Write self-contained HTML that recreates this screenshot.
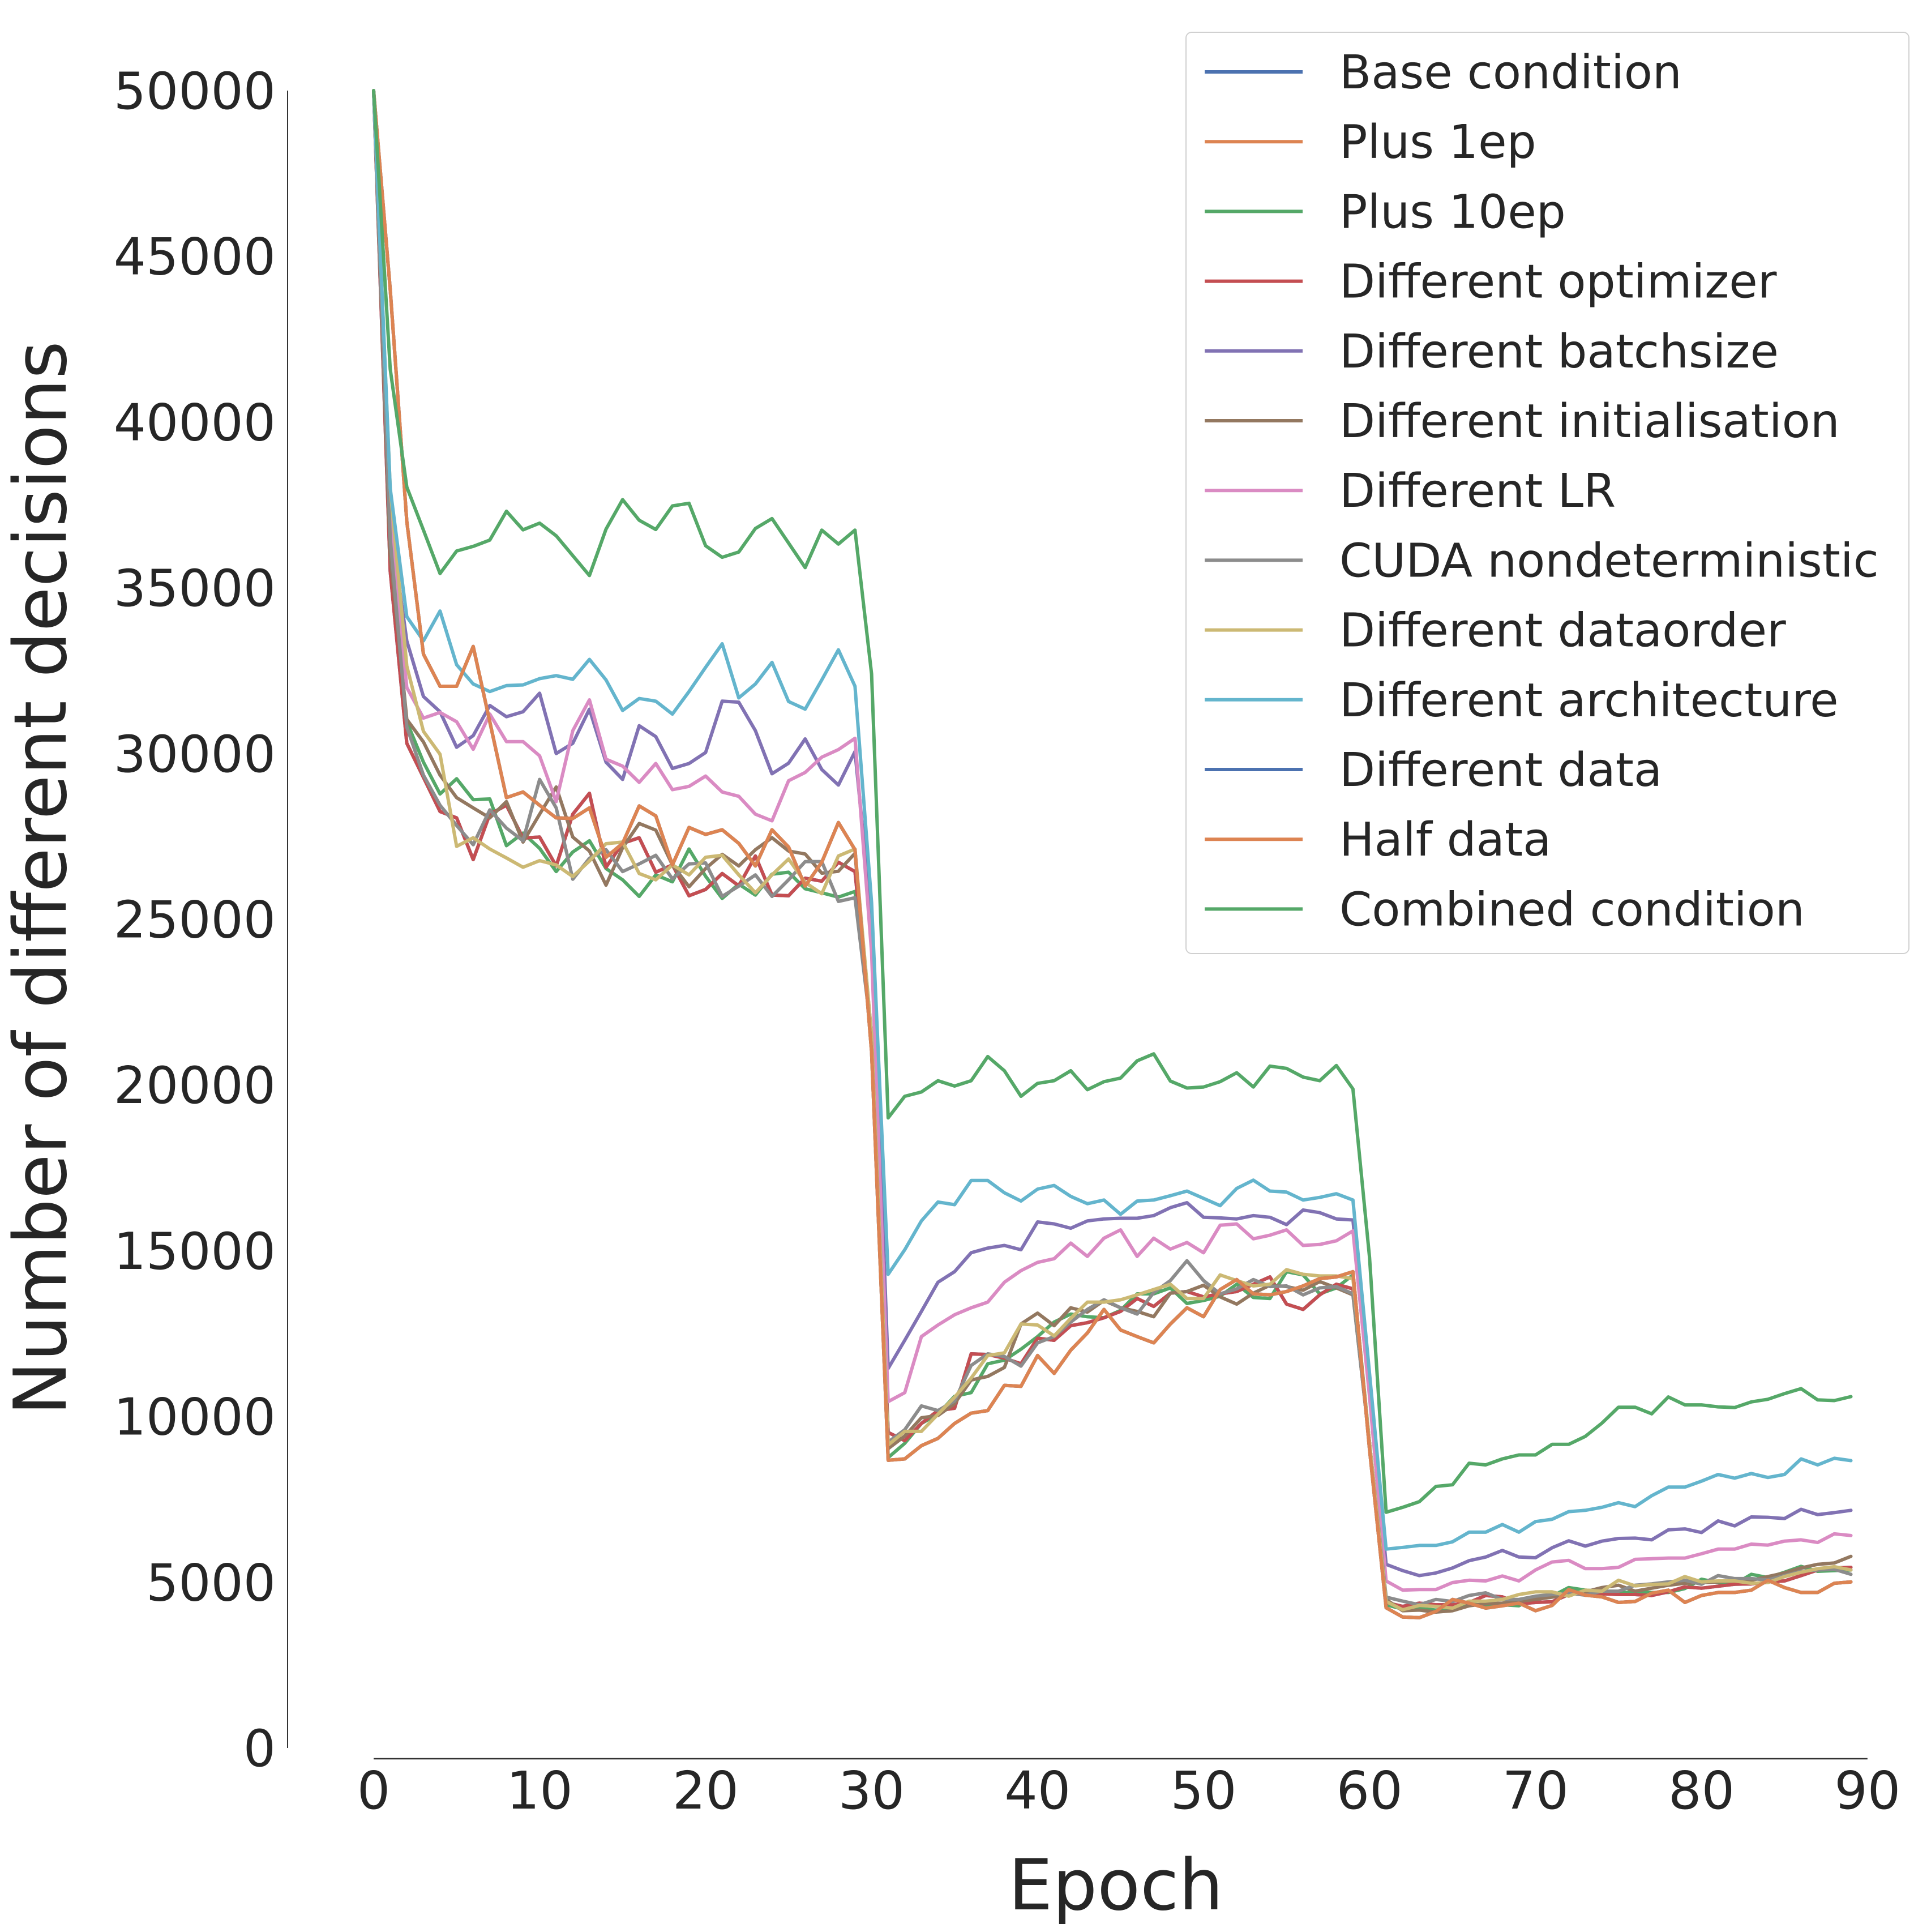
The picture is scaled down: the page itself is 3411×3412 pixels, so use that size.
<!DOCTYPE html>
<html><head><meta charset="utf-8"><style>
html,body{margin:0;padding:0;background:#fff;}
svg{display:block;font-family:"DejaVu Sans","Liberation Sans",sans-serif;}
</style></head><body>
<svg id="chart" width="3411" height="3412" viewBox="0 0 3411 3412" xmlns="http://www.w3.org/2000/svg">
<rect x="0" y="0" width="3411" height="3412" fill="#fff"/>
<g id="axes"></g>
<g id="lines"></g>
<g id="legend"></g>
</svg>
<script>
const yTicks=[0,5000,10000,15000,20000,25000,30000,35000,40000,45000,50000];
const xTicks=[0,10,20,30,40,50,60,70,80,90];
const seriesNames=["Base condition","Plus 1ep","Plus 10ep","Different optimizer","Different batchsize","Different initialisation","Different LR","CUDA nondeterministic","Different dataorder","Different architecture","Different data","Half data","Combined condition"];
const seriesColors=["#4c72b0","#dd8452","#55a868","#c44e52","#8172b3","#937860","#da8bc3","#8c8c8c","#ccb974","#64b5cd","#4c72b0","#dd8452","#55a868"];

const halfData=[50000,44000,37000,33000,32030,32030,33230,30960,28670,28840,28440,28060,28040,28360,26870,27290,28420,28120,26640,27770,27560,27700,27290,26610,27700,27180,26000,26720,27920,27100,21000,
8680,8720,9120,9340,9790,10100,10180,10940,10910,11840,11300,12000,12520,13230,12610,12410,12220,12790,13280,13010,13830,14130,13700,13670,13770,13940,14160,14210,14370,9000,
4230,3950,3930,4120,4480,4370,4220,4290,4370,4140,4300,4780,4610,4560,4390,4420,4670,4760,4390,4600,4690,4690,4760,5060,4840,4690,4690,4970,5010];
const optimizerData=[50000,35500,30310,29280,28250,28060,26800,28170,28440,27450,27480,26610,28170,28800,26570,27290,27460,26420,26640,25710,25900,26380,26010,26910,25730,25710,26240,26150,26720,26440,21500,
9520,9270,9790,10180,10250,11890,11870,11760,11590,12360,12300,12740,12830,12980,13170,13560,13320,13720,13770,13610,13700,13770,13990,14210,13390,13230,13670,13990,13850,9200,
4390,4270,4370,4320,4320,4390,4600,4560,4350,4390,4410,4630,4690,4650,4630,4630,4600,4710,4860,4820,4880,4940,4950,5010,5040,5200,5370,5430,5450];
const baseData=optimizerData.slice();
const plus1epData=halfData.slice();
const differentDataData=halfData.slice();
const plus10epData=[50000,36000,30960,29740,28780,29240,28610,28630,27220,27600,27140,26440,27030,27370,26530,26190,25690,26340,26130,27120,26300,25630,26060,25730,26360,26420,25920,25800,25670,25840,21500,
8760,9190,9790,10070,10610,10720,11590,11700,12030,12410,12850,13090,13010,12980,13200,13700,13700,13880,13410,13500,13630,13990,13590,13560,14370,14270,13700,13880,14270,9200,
4320,4190,4210,4160,4220,4350,4300,4320,4290,4560,4580,4840,4760,4730,4680,4710,4690,4690,4810,5090,4990,4940,5240,5140,5300,5480,5330,5350,5370];
const batchsizeData=[50000,37000,33400,31720,31260,30190,30540,31450,31110,31260,31820,30000,30310,31340,29740,29220,30840,30510,29550,29700,30030,31580,31550,30690,29390,29710,30440,29520,29050,30060,25000,
11450,12300,13170,14050,14370,14940,15080,15160,15030,15870,15810,15680,15900,15960,15980,15980,16060,16300,16450,16010,15990,15960,16060,16010,15790,16230,16150,15960,15930,10900,
5540,5350,5200,5280,5430,5650,5760,5960,5760,5740,6040,6250,6090,6240,6320,6330,6280,6580,6610,6500,6850,6700,6970,6960,6920,7200,7040,7100,7170];
const initData=[50000,36000,31030,30350,29350,28670,28360,28060,28550,27330,28170,28990,27480,27060,26030,27160,27890,27690,26640,25980,26530,26960,26610,27100,27460,27060,26970,26390,26450,26990,21500,
9030,9410,9960,10030,10390,11100,11210,11480,12790,13120,12740,13280,13150,13500,13280,13170,13010,13720,13770,13960,13610,13390,13720,13960,13920,13810,14070,13880,13670,9200,
4480,4140,4160,4100,4140,4290,4350,4370,4420,4480,4550,4610,4710,4840,4910,4730,4820,4910,4970,4990,5010,5040,5060,5170,5280,5430,5540,5580,5780];
const lrData=[50000,37000,31990,31070,31240,30960,30130,31190,30360,30360,29930,28550,30690,31620,29830,29620,29130,29700,28910,29010,29320,28840,28710,28170,27970,29180,29430,29890,30120,30460,24000,
10450,10720,12410,12760,13070,13280,13450,14050,14400,14650,14760,15230,14830,15380,15630,14830,15380,15050,15250,14940,15770,15810,15360,15470,15630,15160,15190,15300,15600,10600,
5040,4760,4780,4780,4990,5060,5040,5190,5040,5370,5610,5660,5410,5410,5450,5690,5710,5730,5730,5860,6000,6000,6150,6120,6240,6280,6200,6460,6410];
const cudaData=[50000,36500,30800,29350,28440,27830,27250,28300,27750,27370,29220,28360,26210,26840,27100,26440,26670,26930,26220,26670,26700,25690,26000,26340,25690,26190,26740,26740,25540,25650,21500,
9230,9600,10320,10180,10470,11540,11890,11810,11520,12220,12410,12850,13230,13520,13280,13090,13740,14100,14700,14100,13700,13850,14130,13920,13940,13670,13880,13920,13700,9200,
4550,4430,4320,4480,4420,4600,4680,4480,4480,4580,4630,4670,4610,4730,4730,4910,4950,5010,5060,4940,5200,5110,5110,5070,5200,5330,5370,5390,5240];
const dataorderData=[50000,38000,32640,30670,29980,27200,27460,27120,26850,26570,26770,26640,26290,26760,27280,27330,26380,26190,26640,26340,26870,26930,26340,25800,26340,26820,26110,25770,26910,27120,21500,
9140,9550,9550,10070,10580,11160,11840,11920,12790,12760,12430,12960,13450,13450,13520,13670,13830,13990,13560,13560,14270,14100,13940,13990,14430,14290,14240,14240,14160,9200,
4420,4170,4300,4270,4220,4430,4430,4480,4630,4710,4710,4580,4760,4730,5060,4890,4930,4950,5170,5010,5040,5040,4970,4990,5170,5300,5410,5470,5370];
const architectureData=[50000,38000,34130,33400,34300,32680,32100,31870,32050,32070,32260,32350,32240,32840,32220,31300,31660,31580,31190,31870,32600,33310,31680,32100,32750,31570,31340,32220,33130,32030,25500,
14290,15030,15900,16470,16390,17120,17120,16750,16500,16860,16970,16640,16420,16530,16100,16500,16530,16660,16800,16580,16360,16880,17130,16800,16770,16530,16610,16720,16530,11300,
6000,6050,6110,6110,6220,6510,6510,6740,6510,6830,6900,7130,7170,7260,7400,7280,7610,7870,7870,8050,8250,8140,8280,8160,8250,8720,8540,8740,8670];
const combinedData=[50000,41600,38040,36740,35430,36110,36250,36440,37310,36750,36950,36570,35970,35370,36770,37660,37040,36760,37470,37550,36270,35920,36080,36790,37090,36350,35610,36740,36320,36740,32400,
19010,19660,19790,20130,19970,20130,20860,20430,19660,20050,20130,20430,19860,20100,20210,20730,20940,20120,19910,19940,20100,20370,19940,20570,20500,20240,20130,20590,19880,14800,
7110,7260,7430,7890,7940,8590,8540,8720,8840,8840,9160,9160,9400,9800,10280,10280,10080,10590,10350,10350,10290,10270,10440,10520,10690,10840,10500,10480,10600];

const allSeries=[baseData,plus1epData,plus10epData,optimizerData,batchsizeData,initData,lrData,cudaData,dataorderData,architectureData,differentDataData,halfData,combinedData];

const NS="http://www.w3.org/2000/svg";
const X0=660, XS=29.32, Y0=3087, YS=2927/50000;
function xScale(e){return X0+e*XS;}
function yScale(v){return Y0-v*YS;}
function mk(tag,attrs,parent,text){const el=document.createElementNS(NS,tag);for(const k in attrs)el.setAttribute(k,attrs[k]);if(text!==undefined)el.textContent=text;parent.appendChild(el);return el;}

const axes=document.getElementById('axes');
let el=mk('line',{x1:508,y1:yScale(50000),x2:508,y2:yScale(0),stroke:'#333','stroke-width':2},axes);


el=mk('line',{x1:xScale(0),y1:3106,x2:xScale(90),y2:3106,stroke:'#333','stroke-width':2.5},axes);


yTicks.forEach(v=>{
  const t=mk('text',{x:487,y:yScale(v)+32,'text-anchor':'end','font-size':90,fill:'#262626'},axes,String(v));
  
  
});
xTicks.forEach(v=>{
  const t=mk('text',{x:xScale(v),y:3194,'text-anchor':'middle','font-size':92,fill:'#262626'},axes,String(v));
  
  
});
el=mk('text',{x:1971,y:3372,'text-anchor':'middle','font-size':124,fill:'#262626'},axes,'Epoch');


el=mk('text',{x:0,y:0,'text-anchor':'middle','font-size':128,fill:'#262626',transform:'translate(116,1551) rotate(-90)'},axes,'Number of different decisions');



const lines=document.getElementById('lines');
allSeries.forEach((arr,i)=>{
  const d=arr.map((v,e)=>(e?'L':'M')+xScale(e).toFixed(1)+' '+yScale(v).toFixed(1)).join(' ');
  const p=mk('path',{d:d,fill:'none',stroke:seriesColors[i],'stroke-width':6,'stroke-linejoin':'round','stroke-linecap':'round'},lines);
  
  
});

const legend=document.getElementById('legend');
el=mk('rect',{x:2095,y:57,width:1277,height:1627,rx:10,fill:'#fff',stroke:'#d0d0d0','stroke-width':2},legend);


seriesNames.forEach((n,i)=>{
  const cy=127+i*123.2;
  const g=mk('g',{},legend);
  
  
  mk('line',{x1:2128,y1:cy,x2:2301,y2:cy,stroke:seriesColors[i],'stroke-width':6},g);
  mk('text',{x:2366,y:cy+29,'font-size':82,fill:'#262626'},g,n);
});
</script>
</body></html>
